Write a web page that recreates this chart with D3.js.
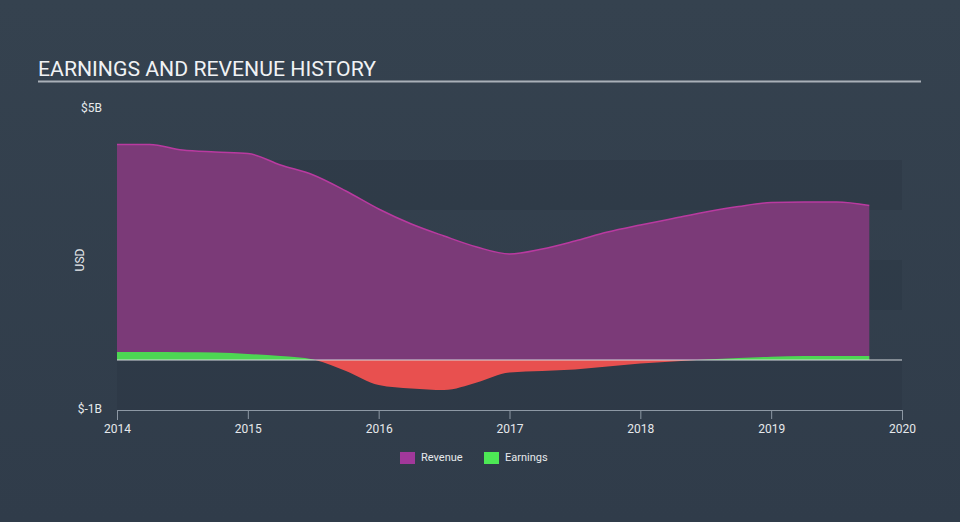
<!DOCTYPE html>
<html>
<head>
<meta charset="utf-8">
<script src="https://cdn.jsdelivr.net/npm/d3@7"></script>
<style>
  html, body { margin: 0; padding: 0; background: #333f4d; }
  svg { display: block; font-family: Roboto, "Noto Sans", sans-serif; }
</style>
</head>
<body>
<svg id="chart" width="960" height="522"></svg>
<script>
// Dates (fractional years) and values in billions USD
const dates = [2014.0, 2014.25, 2014.5, 2014.75, 2015.0, 2015.25, 2015.5, 2015.75,
               2016.0, 2016.25, 2016.5, 2016.75, 2017.0, 2017.25, 2017.5, 2017.75,
               2018.0, 2018.25, 2018.5, 2018.75, 2019.0, 2019.25, 2019.5, 2019.75];
const revenue = [4.31, 4.31, 4.20, 4.16, 4.13, 3.90, 3.70, 3.38,
                 3.02, 2.72, 2.48, 2.26, 2.12, 2.22, 2.38, 2.56,
                 2.70, 2.83, 2.96, 3.07, 3.15, 3.16, 3.16, 3.09];
const earnings = [0.16, 0.16, 0.155, 0.15, 0.12, 0.08, 0.01, -0.22,
                  -0.50, -0.57, -0.60, -0.45, -0.25, -0.22, -0.19, -0.13,
                  -0.07, -0.03, 0.01, 0.04, 0.065, 0.08, 0.08, 0.08];
const xTicks = [2014, 2015, 2016, 2017, 2018, 2019, 2020];
const yTickValues = [5, -1];
const yTickLabels = ["$5B", "$-1B"];
const legendItems = ["Revenue", "Earnings"];

const svg = d3.select("#chart");
const W = 960, H = 522;

// background gradient
const defs = svg.append("defs");
const bg = defs.append("linearGradient").attr("id", "bg").attr("x1", 0).attr("y1", 0).attr("x2", 0).attr("y2", 1);
bg.append("stop").attr("offset", "0%").attr("stop-color", "#35424f");
bg.append("stop").attr("offset", "100%").attr("stop-color", "#303c4a");
svg.append("rect").attr("width", W).attr("height", H).attr("fill", "url(#bg)");

const x = d3.scaleLinear().domain([2014, 2020]).range([117, 902]);
const y = d3.scaleLinear().domain([-1, 5]).range([410, 110]);

// Title
svg.append("text").attr("x", 38).attr("y", 76)
  .attr("fill", "#f0f2f4").attr("font-size", 20).attr("font-weight", 400)
  .attr("textLength", 338).attr("lengthAdjust", "spacingAndGlyphs")
  .text("EARNINGS AND REVENUE HISTORY");
svg.append("rect").attr("x", 38).attr("y", 80.5).attr("width", 883).attr("height", 2).attr("fill", "#a9b0b8");

// Bands
const bands = [[3, 4], [1, 2], [-1, 0]];
svg.append("g").selectAll("rect").data(bands).join("rect")
  .attr("x", x(2014)).attr("width", x(2020) - x(2014))
  .attr("y", d => y(d[1])).attr("height", d => y(d[0]) - y(d[1]))
  .attr("fill", "#27323f").attr("opacity", 0.3);

const pts = dates.map((d, i) => ({ t: d, r: revenue[i], e: earnings[i] }));
const curve = d3.curveMonotoneX;

// Revenue area
svg.append("path").datum(pts)
  .attr("fill", "#7b3a78")
  .attr("d", d3.area().curve(curve).x(d => x(d.t)).y0(y(0)).y1(d => y(d.r)));
svg.append("path").datum(pts)
  .attr("fill", "none").attr("stroke", "#b93aa0").attr("stroke-width", 1.5)
  .attr("d", d3.line().curve(curve).x(d => x(d.t)).y(d => y(d.r)));

// Earnings clip paths
defs.append("clipPath").attr("id", "above").append("rect")
  .attr("x", 0).attr("y", 0).attr("width", W).attr("height", y(0));
defs.append("clipPath").attr("id", "below").append("rect")
  .attr("x", 0).attr("y", y(0)).attr("width", W).attr("height", H - y(0));

const eArea = d3.area().curve(curve).x(d => x(d.t)).y0(y(0)).y1(d => y(d.e));
svg.append("path").datum(pts).attr("clip-path", "url(#above)")
  .attr("fill", "#4dd653").attr("d", eArea);
svg.append("path").datum(pts).attr("clip-path", "url(#below)")
  .attr("fill", "#e8504f").attr("d", eArea);

// Zero line
svg.append("line").attr("x1", x(2014)).attr("x2", x(2020))
  .attr("y1", y(0)).attr("y2", y(0)).attr("stroke", "#d4d8dc").attr("stroke-width", 1.2);

// X axis
const xAxis = svg.append("g").attr("transform", `translate(0,${y(-1)})`)
  .call(d3.axisBottom(x).tickValues(xTicks).tickFormat(d3.format("d")).tickSizeOuter(0).tickSize(10));
xAxis.select(".domain").attr("stroke", "#8d98a4");
xAxis.selectAll(".tick line").attr("stroke", "#8d98a4").attr("y1", 0).attr("y2", 9);
xAxis.selectAll(".tick text").attr("fill", "#e6e9ec").attr("font-size", 12)
  .attr("font-family", "Roboto, sans-serif").attr("y", 14).attr("dy", "0.71em");

// Y labels
svg.append("g").selectAll("text").data(yTickValues).join("text")
  .attr("x", 102).attr("y", d => y(d) + (d === 5 ? -1 : 0))
  .attr("text-anchor", "end").attr("dominant-baseline", "middle")
  .attr("fill", "#e6e9ec").attr("font-size", 12)
  .text((d, i) => yTickLabels[i]);
svg.append("text").attr("transform", `translate(84,${260}) rotate(-90)`)
  .attr("text-anchor", "middle").attr("fill", "#e6e9ec").attr("font-size", 12)
  .text("USD");

// Legend
const legendColors = ["#a1389a", "#4de855"];
const lg = svg.append("g");
const lx = [400, 484];
legendItems.forEach((name, i) => {
  lg.append("rect").attr("x", lx[i]).attr("y", 452).attr("width", 15).attr("height", 12)
    .attr("fill", legendColors[i]);
  lg.append("text").attr("x", lx[i] + 21).attr("y", 458).attr("dominant-baseline", "middle")
    .attr("fill", "#e6e9ec").attr("font-size", 11).text(name);
});
</script>
</body>
</html>
